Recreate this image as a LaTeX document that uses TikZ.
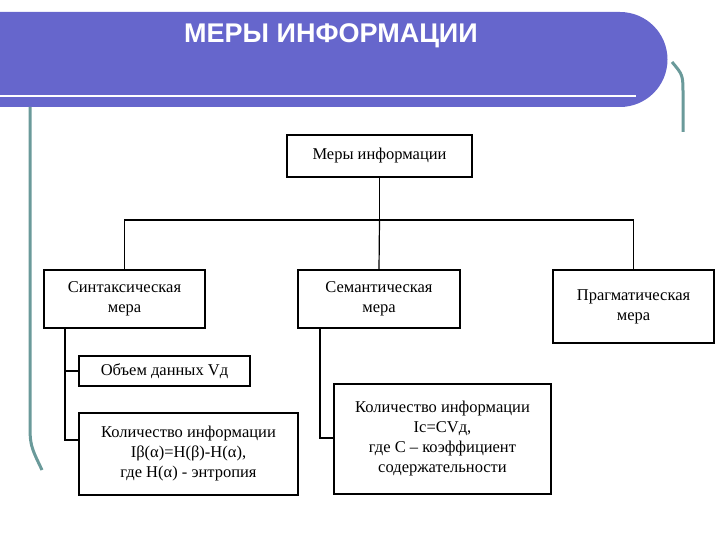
\documentclass[tikz,border=0pt]{standalone}
\usepackage{fontspec}
\setmainfont{Liberation Serif}
\newfontfamily\hdfont{Liberation Sans}
\definecolor{band}{HTML}{6666CC}
\definecolor{teal}{HTML}{6A9A9A}
\begin{document}
\begin{tikzpicture}[x=1pt,y=-1pt,
  box/.style={draw,line width=1.4pt,align=center,font=\fontsize{16.5}{20}\selectfont,inner sep=2pt},
  conn/.style={line width=1.2pt}]
\useasboundingbox (0,0) rectangle (720,540);
% decoration
\draw[teal,line width=3pt] (672,62) .. controls (683,75) .. (683,95) -- (683,132);
\fill[band] (0,12) -- (620,12) arc[start angle=-90,end angle=90,radius=47.5] -- (0,107) -- cycle;
\draw[white,line width=2pt] (0,96) -- (636,96);
\draw[teal,line width=3pt] (30,107) -- (30,420) .. controls (30,445) .. (42,470);
\node[white,font=\hdfont\bfseries\fontsize{27}{29}\selectfont] (title) at (331,36) {МЕРЫ ИНФОРМАЦИИ};
% boxes
\node[box,minimum width=185,minimum height=42] (top) at (379.5,156) {Меры информации};
\node[box,minimum width=161,minimum height=58] (syn) at (124.5,299) {Синтаксическая\\мера};
\node[box,minimum width=162,minimum height=58] (sem) at (379,299) {Семантическая\\мера};
\node[box,minimum width=161,minimum height=73] (prag) at (633.5,306.5) {Прагматическая\\мера};
\node[box,minimum width=171,minimum height=30] (vol) at (164.5,371) {Объем данных Vд};
\node[box,minimum width=219,minimum height=82] (k1) at (188.5,454) {Количество информации\\Iβ(α)=H(β)-H(α),\\где H(α) - энтропия};
\node[box,minimum width=217,minimum height=110] (k2) at (442.5,439) {Количество информации\\Ic=CVд,\\где C – коэффициент\\содержательности};
% connectors
\coordinate (hub) at (379.5,220);
\draw[conn] (top.south) -- (hub);
\draw[conn] (syn.north) |- (hub) -| (prag.north);
\draw[conn] (hub) -- (sem.north);
\coordinate (sv) at (65,328);
\draw[conn] (sv) |- (k1.west |- 0,440);
\draw[conn] (65,371) -- (vol.west);
\coordinate (mv) at (320,328);
\draw[conn] (mv) |- (k2.west |- 0,438);
\end{tikzpicture}
\end{document}
